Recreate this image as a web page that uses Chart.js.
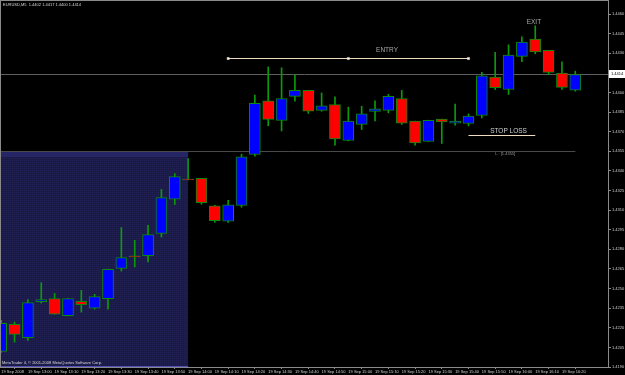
<!DOCTYPE html>
<html>
<head>
<meta charset="utf-8">
<script src="https://cdn.jsdelivr.net/npm/chart.js@4.4.1/dist/chart.umd.min.js"></script>
<style>
  html, body { margin: 0; padding: 0; background: #000; overflow: hidden; }
  canvas { display: block; }
</style>
</head>
<body>
<canvas id="chart" width="625" height="375"></canvas>
<script>
// EURUSD M5, 19 Sep 2008, bars from 12:50 to 16:25
const opens = [1.42019, 1.42226, 1.42124, 1.42400, 1.42423, 1.42293, 1.42402, 1.42351, 1.42423, 1.42655,
  1.42751, 1.42752, 1.42921, 1.43183, 1.43338, 1.43344, 1.43133, 1.43015, 1.43137, 1.43526,
  1.43936, 1.43786, 1.43970, 1.44016, 1.43863, 1.43908, 1.43633, 1.43755, 1.43855, 1.43863,
  1.43954, 1.43781, 1.43625, 1.43796, 1.43765, 1.43763, 1.43824, 1.44118, 1.44023, 1.44276,
  1.44409, 1.44322, 1.44148, 1.44018];
const highs = [1.42257, 1.42244, 1.42415, 1.42545, 1.42463, 1.42426, 1.42486, 1.42456, 1.42650, 1.42967,
  1.42869, 1.42984, 1.43258, 1.43380, 1.43495, 1.43344, 1.43137, 1.43176, 1.43528, 1.43980,
  1.44196, 1.44189, 1.44138, 1.44016, 1.43997, 1.43967, 1.43888, 1.43895, 1.43936, 1.43985,
  1.44016, 1.43781, 1.43788, 1.43796, 1.43911, 1.43836, 1.44154, 1.44307, 1.44365, 1.44426,
  1.44510, 1.44322, 1.44235, 1.44163];
const lows = [1.42012, 1.42090, 1.42103, 1.42389, 1.42303, 1.42290, 1.42320, 1.42343, 1.42343, 1.42634,
  1.42665, 1.42703, 1.42895, 1.43143, 1.43332, 1.43145, 1.43007, 1.43007, 1.43122, 1.43513,
  1.43745, 1.43706, 1.43934, 1.43840, 1.43857, 1.43597, 1.43630, 1.43717, 1.43783, 1.43844,
  1.43755, 1.43597, 1.43625, 1.43610, 1.43750, 1.43745, 1.43806, 1.44023, 1.43985, 1.44235,
  1.44296, 1.44138, 1.44023, 1.44010];
const closes = [1.42234, 1.42149, 1.42392, 1.42415, 1.42305, 1.42423, 1.42377, 1.42438, 1.42647, 1.42737,
  1.42743, 1.42913, 1.43196, 1.43357, 1.43334, 1.43158, 1.43019, 1.43141, 1.43507, 1.43918,
  1.43794, 1.43954, 1.44016, 1.43857, 1.43898, 1.43645, 1.43781, 1.43836, 1.43875, 1.43970,
  1.43765, 1.43614, 1.43788, 1.43775, 1.43781, 1.43819, 1.44128, 1.44037, 1.44286, 1.44386,
  1.44311, 1.44154, 1.44039, 1.44138];

// one label every second bar (10 minutes)
const timeLabels = ['19 Sep 2008', '19 Sep 13:00', '19 Sep 13:10', '19 Sep 13:20', '19 Sep 13:30',
  '19 Sep 13:40', '19 Sep 13:50', '19 Sep 14:00', '19 Sep 14:10', '19 Sep 14:20', '19 Sep 14:30',
  '19 Sep 14:40', '19 Sep 14:50', '19 Sep 15:00', '19 Sep 15:10', '19 Sep 15:20', '19 Sep 15:30',
  '19 Sep 15:40', '19 Sep 15:50', '19 Sep 16:00', '19 Sep 16:10', '19 Sep 16:20'];

const priceTicks = [1.4190, 1.4205, 1.4220, 1.4235, 1.4250, 1.4265, 1.4280, 1.4295, 1.4310, 1.4325,
  1.4340, 1.4355, 1.4370, 1.4385, 1.4400, 1.4430, 1.4445, 1.4460];

// trade marks drawn on the chart
const entryBars = [17, 26, 35];
const entryPrice = 1.4426;
const stopBars = [35, 40];
const stopPrice = 1.43671;
const levelPrice = 1.4355;
const shadeEndBar = 14;
const title = 'EURUSD,M5  1.4402 1.4417 1.4400 1.4414';

const idx = closes.map((_, i) => i);
const lastClose = closes[closes.length - 1];
const tiny = '4px "Liberation Sans", Arial, sans-serif';

function hline(ctx, y, x0, x1, color) {
  const yy = Math.round(y) + 0.5;
  ctx.strokeStyle = color;
  ctx.lineWidth = 1;
  ctx.beginPath();
  ctx.moveTo(x0, yy);
  ctx.lineTo(x1, yy);
  ctx.stroke();
}

function shadePattern(ctx) {
  const off = document.createElement('canvas');
  off.width = 2; off.height = 2;
  const o = off.getContext('2d');
  o.fillStyle = '#1a1a44';
  o.fillRect(0, 0, 2, 2);
  o.fillStyle = '#222256';
  o.fillRect(0, 0, 1, 1);
  return ctx.createPattern(off, 'repeat');
}

function noPad(s) {
  s.paddingTop = 0;
  s.paddingBottom = 0;
  s.paddingLeft = 0;
  s.paddingRight = 0;
}

const mt4Overlay = {
  id: 'mt4Overlay',
  beforeDraw(chart) {
    const ctx = chart.ctx;
    ctx.save();
    ctx.fillStyle = '#000';
    ctx.fillRect(0, 0, chart.width, chart.height);
    ctx.restore();
  },
  beforeDatasetsDraw(chart) {
    const { ctx, chartArea: a, scales: { x, y } } = chart;
    ctx.save();
    const bx = x.getPixelForValue(shadeEndBar);
    const by = Math.round(y.getPixelForValue(levelPrice));
    ctx.fillStyle = shadePattern(ctx);
    ctx.fillRect(a.left, by, bx - a.left, a.bottom - by);
    ctx.fillStyle = '#262666';
    ctx.fillRect(a.left, by, bx - a.left, 6);
    hline(ctx, a.bottom - 1, a.left, bx, '#5050b8');
    hline(ctx, y.getPixelForValue(levelPrice), a.left, x.getPixelForValue(idx.length - 1), '#4a4a4a');
    hline(ctx, y.getPixelForValue(lastClose), a.left, a.right, '#5e5e5e');
    ctx.restore();
  },
  afterDatasetsDraw(chart) {
    const { ctx, chartArea: a, scales: { x, y } } = chart;
    ctx.save();
    ctx.textBaseline = 'middle';

    ctx.font = tiny;
    ctx.fillStyle = '#d8d8d8';
    ctx.textAlign = 'left';
    ctx.fillText(title, 3, 5);
    ctx.fillText('MetaTrader 4, \u00a9 2001-2008 MetaQuotes Software Corp.', 2, 363);
    ctx.fillStyle = '#9a9a9a';
    ctx.fillText('L : [' + levelPrice.toFixed(4) + ']', x.getPixelForValue(37), y.getPixelForValue(levelPrice) + 3);

    ctx.font = '6.5px "Liberation Sans", Arial, sans-serif';
    ctx.textAlign = 'center';
    ctx.fillStyle = '#a8a8a8';
    ctx.fillText('ENTRY', x.getPixelForValue(28.9), y.getPixelForValue(1.44324));
    ctx.fillText('EXIT', x.getPixelForValue(39.9), y.getPixelForValue(1.44541));
    ctx.fillStyle = '#d0d0d0';
    ctx.fillText('STOP LOSS', x.getPixelForValue(38), y.getPixelForValue(1.43704));

    // frame
    ctx.strokeStyle = '#8a8a8a';
    ctx.lineWidth = 1;
    ctx.strokeRect(a.left - 0.5, a.top - 0.5, a.right - a.left + 1, a.bottom - a.top + 1);

    // current price tag
    const cy = Math.round(y.getPixelForValue(lastClose));
    ctx.fillStyle = '#ffffff';
    ctx.fillRect(a.right + 1, cy - 4, 16, 8);
    ctx.fillStyle = '#000';
    ctx.font = tiny;
    ctx.textAlign = 'left';
    ctx.fillText(lastClose.toFixed(4), a.right + 3, cy);
    ctx.restore();
  }
};

Chart.defaults.font.family = '"Liberation Sans", Arial, sans-serif';

new Chart(document.getElementById('chart'), {
  type: 'bar',
  data: {
    datasets: [
      {
        type: 'line',
        data: entryBars.map(b => ({ x: b, y: entryPrice })),
        borderColor: '#efdcc0',
        borderWidth: 1.2,
        pointStyle: 'rect',
        pointRadius: 1.5,
        pointBackgroundColor: '#ffffff',
        pointBorderColor: '#efdcc0',
        pointBorderWidth: 0.5,
        order: 0,
      },
      {
        type: 'line',
        data: stopBars.map(b => ({ x: b, y: stopPrice })),
        borderColor: '#efdcc0',
        borderWidth: 1.2,
        pointRadius: 0,
        order: 0,
      },
      {
        data: idx.map(i => ({ x: i, y: [opens[i], closes[i]] })),
        backgroundColor: idx.map(i => closes[i] > opens[i] ? '#0000ff' : '#ff0000'),
        borderColor: '#0a8a0a',
        borderWidth: 1,
        borderSkipped: false,
        barThickness: 11,
        grouped: false,
        order: 1,
      },
      {
        data: idx.map(i => ({ x: i, y: [lows[i], highs[i]] })),
        backgroundColor: '#0a9a0a',
        borderWidth: 0,
        barThickness: 1,
        grouped: false,
        order: 2,
      },
    ],
  },
  options: {
    responsive: false,
    animation: false,
    devicePixelRatio: 1,
    layout: { autoPadding: false, padding: { left: 1, top: 1, right: 0, bottom: 0 } },
    plugins: { legend: { display: false }, tooltip: { enabled: false } },
    scales: {
      x: {
        type: 'linear',
        min: -0.015,
        max: 45.45,
        offset: false,
        afterBuildTicks: s => { s.ticks = timeLabels.map((_, j) => ({ value: j * 2 })); },
        afterFit: s => { s.height = 8; noPad(s); },
        border: { display: false },
        grid: { drawOnChartArea: false, drawTicks: true, tickLength: 2, color: '#8a8a8a' },
        ticks: {
          autoSkip: false,
          maxRotation: 0,
          minRotation: 0,
          align: 'start',
          padding: 0,
          color: '#d0d0d0',
          font: { size: 4 },
          callback: (v, i) => timeLabels[i],
        },
      },
      y: {
        position: 'right',
        min: 1.4190,
        max: 1.4470,
        afterBuildTicks: s => { s.ticks = priceTicks.map(v => ({ value: v })); },
        afterFit: s => { s.width = 17; noPad(s); },
        border: { display: false },
        grid: { drawOnChartArea: false, drawTicks: true, tickLength: 3, color: '#8a8a8a' },
        ticks: {
          padding: 1,
          color: '#d0d0d0',
          font: { size: 4 },
          callback: v => v.toFixed(4),
        },
      },
    },
  },
  plugins: [mt4Overlay],
});
</script>
</body>
</html>
